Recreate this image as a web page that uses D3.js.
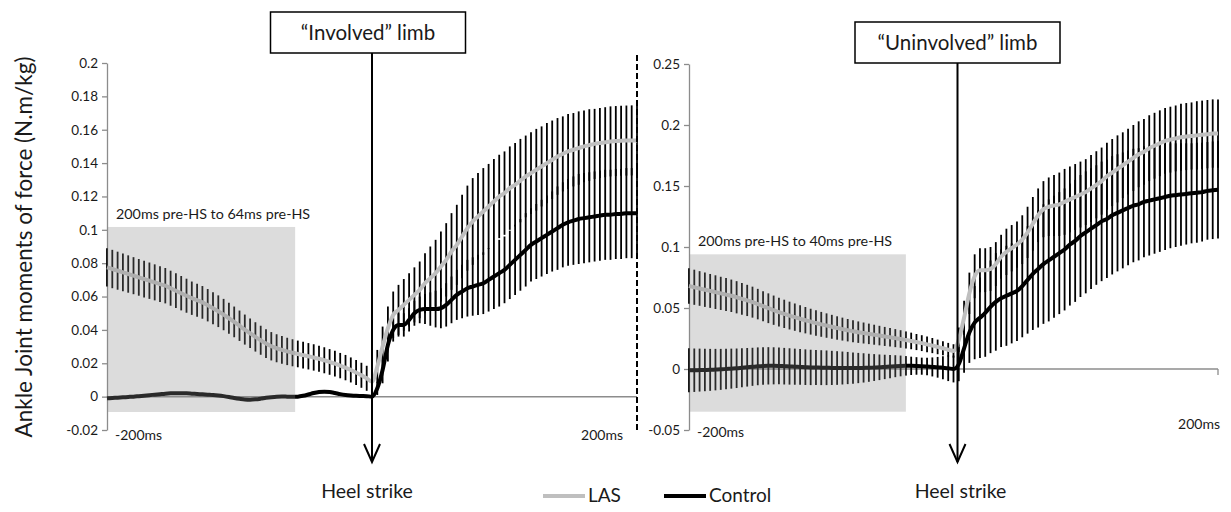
<!DOCTYPE html>
<html>
<head>
<meta charset="utf-8">
<script src="https://cdn.jsdelivr.net/npm/d3@7"></script>
<style>
body { margin: 0; background: #fff; }
text { font-family: Lato, "Open Sans", sans-serif; fill: #1a1a1a; }
</style>
</head>
<body>
<script>
// ankle joint moments, 200ms before to 200ms after heel strike (4ms samples)
var time = d3.range(-200, 201, 4)

// "Involved" limb
var lasInv = [
  0.0775,0.0765,0.0755,0.0745,0.0735,0.0725,0.0715,0.0705,0.0695,0.0685,
  0.0675,0.0665,0.0650,0.0635,0.0620,0.0605,0.0590,0.0578,0.0565,0.0548,
  0.0530,0.0512,0.0492,0.0470,0.0448,0.0425,0.0402,0.0380,0.0358,0.0338,
  0.0318,0.0302,0.0290,0.0280,0.0271,0.0263,0.0256,0.0249,0.0242,0.0235,
  0.0227,0.0218,0.0208,0.0198,0.0186,0.0174,0.0160,0.0145,0.0128,0.0110,
  0.0090,0.0180,0.0300,0.0410,0.0490,0.0520,0.0550,0.0580,0.0610,0.0640,
  0.0680,0.0710,0.0740,0.0780,0.0820,0.0870,0.0910,0.0960,0.1010,0.1050,
  0.1080,0.1110,0.1140,0.1170,0.1200,0.1220,0.1250,0.1270,0.1295,0.1320,
  0.1340,0.1360,0.1380,0.1400,0.1420,0.1440,0.1455,0.1470,0.1480,0.1490,
  0.1500,0.1508,0.1515,0.1520,0.1525,0.1530,0.1532,0.1534,0.1535,0.1536,
  0.1536]
var lasInvSd = [
  0.0115,0.0115,0.0114,0.0113,0.0112,0.0111,0.0110,0.0110,0.0109,0.0108,
  0.0107,0.0106,0.0105,0.0104,0.0103,0.0102,0.0100,0.0099,0.0098,0.0097,
  0.0096,0.0095,0.0094,0.0093,0.0092,0.0091,0.0090,0.0089,0.0088,0.0087,
  0.0086,0.0085,0.0084,0.0083,0.0082,0.0081,0.0080,0.0080,0.0079,0.0079,
  0.0078,0.0078,0.0077,0.0077,0.0076,0.0076,0.0075,0.0075,0.0075,0.0075,
  0.0080,0.0100,0.0120,0.0130,0.0140,0.0150,0.0155,0.0160,0.0165,0.0170,
  0.0180,0.0190,0.0200,0.0210,0.0220,0.0230,0.0240,0.0250,0.0255,0.0260,
  0.0260,0.0260,0.0255,0.0255,0.0250,0.0250,0.0250,0.0250,0.0250,0.0245,
  0.0245,0.0245,0.0240,0.0240,0.0235,0.0230,0.0225,0.0225,0.0220,0.0220,
  0.0215,0.0215,0.0210,0.0210,0.0210,0.0210,0.0210,0.0210,0.0210,0.0210,
  0.0210]
var ctlInv = [
  -0.0010,-0.0008,-0.0006,-0.0004,-0.0002,0.0000,0.0003,0.0006,0.0009,0.0012,
  0.0015,0.0018,0.0020,0.0021,0.0021,0.0020,0.0018,0.0016,0.0014,0.0012,
  0.0010,0.0007,0.0003,-0.0002,-0.0008,-0.0013,-0.0017,-0.0018,-0.0016,-0.0012,
  -0.0007,-0.0003,0.0000,0.0001,0.0000,-0.0001,0.0000,0.0005,0.0013,0.0022,
  0.0028,0.0030,0.0028,0.0022,0.0015,0.0010,0.0007,0.0005,0.0004,0.0003,
  0.0000,0.0050,0.0160,0.0310,0.0400,0.0430,0.0430,0.0460,0.0500,0.0520,
  0.0525,0.0525,0.0525,0.0530,0.0550,0.0580,0.0610,0.0630,0.0650,0.0660,
  0.0670,0.0680,0.0700,0.0720,0.0740,0.0760,0.0790,0.0820,0.0850,0.0880,
  0.0910,0.0930,0.0950,0.0970,0.0990,0.1010,0.1030,0.1045,0.1055,0.1065,
  0.1070,0.1075,0.1080,0.1085,0.1090,0.1090,0.1095,0.1095,0.1100,0.1100,
  0.1100]
var ctlInvSd = [
  0,0,0,0,0,0,0,0,0,0,
  0,0,0,0,0,0,0,0,0,0,
  0,0,0,0,0,0,0,0,0,0,
  0,0,0,0,0,0,0,0,0,0,
  0,0,0,0,0,0,0,0,0,0,
  0.0000,0.0040,0.0080,0.0100,0.0070,0.0070,0.0070,0.0070,0.0075,0.0080,
  0.0090,0.0100,0.0110,0.0120,0.0130,0.0140,0.0150,0.0160,0.0170,0.0175,
  0.0180,0.0185,0.0190,0.0195,0.0200,0.0200,0.0205,0.0210,0.0215,0.0220,
  0.0220,0.0225,0.0230,0.0235,0.0240,0.0250,0.0255,0.0260,0.0265,0.0270,
  0.0270,0.0270,0.0270,0.0270,0.0270,0.0270,0.0270,0.0270,0.0270,0.0270,
  0.0270]

// "Uninvolved" limb
var lasUni = [
  0.0680,0.0670,0.0660,0.0650,0.0640,0.0630,0.0620,0.0610,0.0600,0.0588,
  0.0575,0.0562,0.0548,0.0532,0.0515,0.0498,0.0482,0.0466,0.0452,0.0438,
  0.0425,0.0412,0.0400,0.0388,0.0377,0.0366,0.0356,0.0346,0.0336,0.0327,
  0.0318,0.0310,0.0302,0.0295,0.0288,0.0281,0.0274,0.0267,0.0260,0.0253,
  0.0246,0.0238,0.0230,0.0221,0.0212,0.0202,0.0192,0.0181,0.0170,0.0158,
  0.0148,0.0240,0.0420,0.0620,0.0760,0.0810,0.0810,0.0820,0.0860,0.0920,
  0.0960,0.0990,0.1020,0.1060,0.1120,0.1190,0.1260,0.1310,0.1330,0.1340,
  0.1350,0.1370,0.1390,0.1410,0.1430,0.1450,0.1480,0.1510,0.1540,0.1580,
  0.1610,0.1640,0.1670,0.1700,0.1730,0.1760,0.1780,0.1810,0.1830,0.1850,
  0.1870,0.1880,0.1890,0.1900,0.1905,0.1910,0.1915,0.1920,0.1925,0.1930,
  0.1930]
var lasUniSd = [
  0.0145,0.0144,0.0142,0.0141,0.0139,0.0138,0.0136,0.0135,0.0133,0.0132,
  0.0130,0.0128,0.0127,0.0125,0.0123,0.0122,0.0120,0.0118,0.0116,0.0114,
  0.0112,0.0110,0.0108,0.0106,0.0104,0.0102,0.0100,0.0098,0.0096,0.0094,
  0.0092,0.0090,0.0088,0.0086,0.0084,0.0082,0.0080,0.0078,0.0076,0.0074,
  0.0072,0.0070,0.0068,0.0066,0.0065,0.0064,0.0062,0.0060,0.0058,0.0056,
  0.0055,0.0100,0.0140,0.0170,0.0180,0.0180,0.0180,0.0180,0.0180,0.0180,
  0.0190,0.0190,0.0190,0.0200,0.0210,0.0220,0.0220,0.0230,0.0240,0.0250,
  0.0260,0.0270,0.0270,0.0270,0.0270,0.0270,0.0275,0.0275,0.0275,0.0275,
  0.0275,0.0275,0.0270,0.0270,0.0270,0.0270,0.0270,0.0270,0.0270,0.0270,
  0.0270,0.0270,0.0270,0.0275,0.0275,0.0275,0.0280,0.0280,0.0280,0.0280,
  0.0280]
var ctlUni = [
  -0.0010,-0.0010,-0.0009,-0.0008,-0.0007,-0.0005,-0.0003,0.0000,0.0003,0.0006,
  0.0010,0.0014,0.0018,0.0022,0.0025,0.0026,0.0026,0.0025,0.0023,0.0021,
  0.0019,0.0017,0.0015,0.0013,0.0012,0.0011,0.0010,0.0009,0.0008,0.0008,
  0.0008,0.0008,0.0008,0.0009,0.0010,0.0012,0.0014,0.0017,0.0020,0.0023,
  0.0025,0.0026,0.0026,0.0025,0.0023,0.0020,0.0017,0.0014,0.0010,0.0006,
  0.0000,0.0040,0.0170,0.0300,0.0380,0.0420,0.0460,0.0510,0.0550,0.0580,
  0.0600,0.0620,0.0640,0.0680,0.0730,0.0780,0.0820,0.0860,0.0890,0.0920,
  0.0950,0.0980,0.1020,0.1050,0.1090,0.1120,0.1150,0.1180,0.1210,0.1230,
  0.1260,0.1280,0.1300,0.1320,0.1340,0.1350,0.1370,0.1380,0.1390,0.1400,
  0.1410,0.1420,0.1425,0.1430,0.1435,0.1440,0.1445,0.1450,0.1460,0.1465,
  0.1470]
var ctlUniSd = [
  0.0180,0.0178,0.0176,0.0174,0.0172,0.0170,0.0168,0.0166,0.0164,0.0162,
  0.0160,0.0158,0.0156,0.0155,0.0154,0.0153,0.0152,0.0151,0.0150,0.0149,
  0.0148,0.0147,0.0146,0.0145,0.0144,0.0143,0.0142,0.0140,0.0138,0.0135,
  0.0132,0.0128,0.0124,0.0120,0.0115,0.0110,0.0105,0.0100,0.0095,0.0090,
  0.0085,0.0080,0.0075,0.0072,0.0070,0.0072,0.0078,0.0085,0.0095,0.0105,
  0.0110,0.0140,0.0200,0.0250,0.0300,0.0330,0.0360,0.0380,0.0400,0.0400,
  0.0410,0.0410,0.0410,0.0420,0.0440,0.0460,0.0480,0.0490,0.0500,0.0500,
  0.0500,0.0500,0.0500,0.0500,0.0500,0.0500,0.0495,0.0490,0.0490,0.0485,
  0.0485,0.0480,0.0475,0.0470,0.0465,0.0460,0.0455,0.0450,0.0445,0.0440,
  0.0435,0.0430,0.0425,0.0420,0.0415,0.0410,0.0410,0.0405,0.0400,0.0400,
  0.0400]

var ticksInv = [-0.02, 0, 0.02, 0.04, 0.06, 0.08, 0.1, 0.12, 0.14, 0.16, 0.18, 0.2]
var ticksUni = [-0.05, 0, 0.05, 0.1, 0.15, 0.2, 0.25]
// shaded analysis windows [t0, t1, v0, v1]
var windowInv = [-200, -58, -0.0092, 0.1017]
var windowUni = [-200, -36, -0.035, 0.094]

var width = 1231, height = 512
var lasColor = "#bfbfbf", ctlColor = "#000"

var svg = d3.select("body").append("svg")
  .attr("width", width)
  .attr("height", height)

var panels = [
  {title: "\u201cInvolved\u201d limb", las: lasInv, lasSd: lasInvSd, ctl: ctlInv, ctlSd: ctlInvSd,
   ticks: ticksInv, win: windowInv, label: "200ms pre-HS to 64ms pre-HS",
   x: d3.scaleLinear().domain([-200, 200]).range([107, 637]),
   y: d3.scaleLinear().domain([-0.02, 0.2]).range([430, 63]),
   boxTop: 12, boxW: 195, arrowDx: 0, boxDx: -4, hsDx: -5, x200y: 440, xm200y: 440},
  {title: "\u201cUninvolved\u201d limb", las: lasUni, lasSd: lasUniSd, ctl: ctlUni, ctlSd: ctlUniSd,
   ticks: ticksUni, win: windowUni, label: "200ms pre-HS to 40ms pre-HS",
   x: d3.scaleLinear().domain([-200, 200]).range([689, 1218]),
   y: d3.scaleLinear().domain([-0.05, 0.25]).range([430, 64]),
   boxTop: 22, boxW: 205, arrowDx: 4, boxDx: 0, hsDx: 3, x200y: 429, xm200y: 437}
]

panels.forEach(function(p, k) {
  var g = svg.append("g")
  var x = p.x, y = p.y

  // y axis
  var yAxis = g.append("g")
    .attr("transform", "translate(" + x.range()[0] + ",0)")
    .call(d3.axisLeft(y).tickValues(p.ticks).tickSize(5).tickSizeOuter(0)
      .tickFormat(function(d) { return String(+d.toFixed(2)) }))
  yAxis.selectAll("path, line").attr("stroke", "#8c8c8c").attr("stroke-width", 1.3)
  yAxis.selectAll("text").attr("font-size", 13.5).attr("fill", "#1a1a1a")
    .attr("font-family", "Lato, sans-serif").attr("x", -9)

  // zero line
  g.append("line")
    .attr("x1", x(-200)).attr("x2", x(200))
    .attr("y1", y(0)).attr("y2", y(0))
    .attr("stroke", "#8c8c8c").attr("stroke-width", 1.5)
  if (k == 1) {
    g.append("line")
      .attr("x1", x(200)).attr("x2", x(200))
      .attr("y1", y(0)).attr("y2", y(0) + 6)
      .attr("stroke", "#8c8c8c").attr("stroke-width", 1.3)
  }

  // sd bars
  var bars = []
  time.forEach(function(t, i) {
    if (p.lasSd[i] > 0) bars.push({t: t, lo: p.las[i] - p.lasSd[i], hi: p.las[i] + p.lasSd[i]})
    if (p.ctlSd[i] > 0) bars.push({t: t, lo: p.ctl[i] - p.ctlSd[i], hi: p.ctl[i] + p.ctlSd[i]})
  })
  g.append("g").selectAll("line")
    .data(bars)
    .enter().append("line")
      .attr("x1", function(d) { return x(d.t) })
      .attr("x2", function(d) { return x(d.t) })
      .attr("y1", function(d) { return y(d.lo) })
      .attr("y2", function(d) { return y(d.hi) })
      .attr("stroke", "#000")
      .attr("stroke-width", 1.8)

  // mean curves
  var line = d3.line()
    .x(function(d) { return x(d[0]) })
    .y(function(d) { return y(d[1]) })
    .curve(d3.curveMonotoneX)
  g.append("path")
    .datum(time.map(function(t, i) { return [t, p.las[i]] }))
    .attr("d", line)
    .attr("fill", "none").attr("stroke", lasColor).attr("stroke-width", 4)
  g.append("path")
    .datum(time.map(function(t, i) { return [t, p.ctl[i]] }))
    .attr("d", line)
    .attr("fill", "none").attr("stroke", ctlColor).attr("stroke-width", 4)

  // shaded window on top
  g.append("rect")
    .attr("x", x(p.win[0])).attr("width", x(p.win[1]) - x(p.win[0]))
    .attr("y", y(p.win[3])).attr("height", y(p.win[2]) - y(p.win[3]))
    .attr("fill", "rgb(140,140,140)").attr("fill-opacity", 0.3)
  g.append("text")
    .attr("x", x(p.win[0]) + 9).attr("y", y(p.win[3]) - 8)
    .attr("font-size", 14.3)
    .text(p.label)

  // time labels
  g.append("text")
    .attr("x", x(-200) + 8).attr("y", p.xm200y)
    .attr("font-size", 14)
    .text("-200ms")
  g.append("text")
    .attr("x", x(200) + (k == 0 ? -14 : 2)).attr("y", p.x200y)
    .attr("text-anchor", "end")
    .attr("font-size", 14)
    .text("200ms")

  // heel strike arrow + title box
  var ax = x(0) + p.arrowDx
  var boxH = 41
  g.append("line")
    .attr("x1", ax).attr("x2", ax)
    .attr("y1", p.boxTop + boxH).attr("y2", 462)
    .attr("stroke", "#000").attr("stroke-width", 2)
  g.append("path")
    .attr("d", "M" + (ax - 8) + ",444L" + ax + ",462L" + (ax + 8) + ",444")
    .attr("fill", "none").attr("stroke", "#000").attr("stroke-width", 2)
  g.append("rect")
    .attr("x", ax + p.boxDx - p.boxW / 2).attr("y", p.boxTop)
    .attr("width", p.boxW).attr("height", boxH)
    .attr("fill", "#fff").attr("stroke", "#000").attr("stroke-width", 1.5)
  g.append("text")
    .attr("x", ax + p.boxDx).attr("y", p.boxTop + 28)
    .attr("text-anchor", "middle")
    .attr("font-size", 20.5)
    .text(p.title)
  g.append("text")
    .attr("x", ax + p.hsDx).attr("y", 498)
    .attr("text-anchor", "middle")
    .attr("font-size", 19.5)
    .text("Heel strike")
})

// dashed divider at the end of the first panel
var xInv = panels[0].x
svg.append("line")
  .attr("x1", xInv(200)).attr("x2", xInv(200))
  .attr("y1", 55).attr("y2", 433)
  .attr("stroke", "#000").attr("stroke-width", 2)
  .attr("stroke-dasharray", "6,3")

// y title
svg.append("text")
  .attr("transform", "translate(32," + 247 + ")rotate(-90)")
  .attr("text-anchor", "middle")
  .attr("font-size", 22.5)
  .text("Ankle Joint moments of force (N.m/kg)")

// legend
var legend = [["LAS", lasColor, 543], ["Control", ctlColor, 664]]
legend.forEach(function(l) {
  svg.append("line")
    .attr("x1", l[2]).attr("x2", l[2] + 42)
    .attr("y1", 496).attr("y2", 496)
    .attr("stroke", l[1]).attr("stroke-width", 4)
  svg.append("text")
    .attr("x", l[2] + 45).attr("y", 502)
    .attr("font-size", 19)
    .text(l[0])
})
</script>
</body>
</html>
